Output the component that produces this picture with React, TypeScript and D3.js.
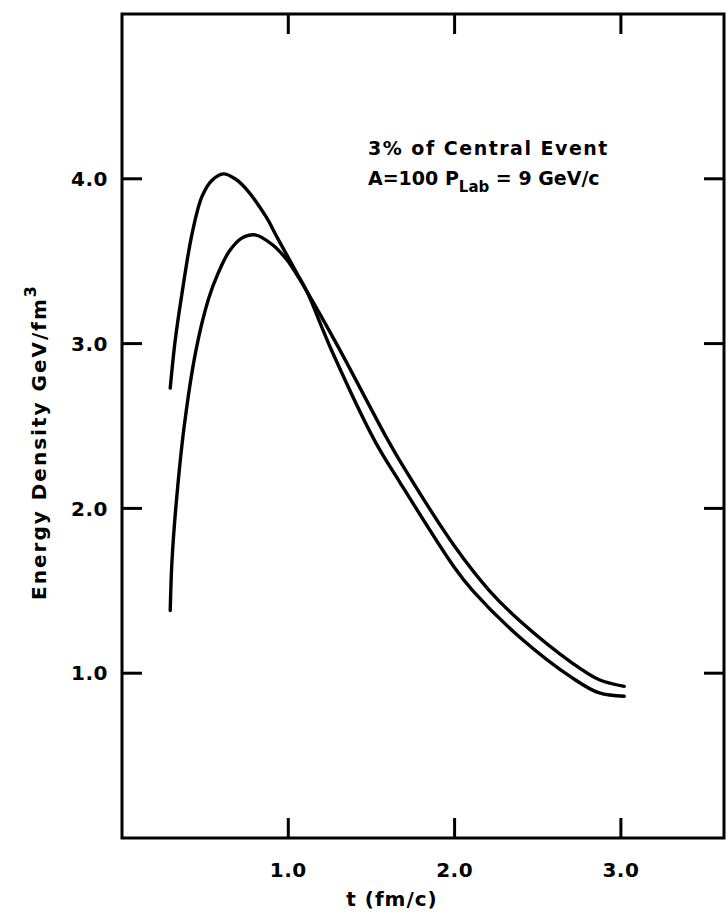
import React from 'react';
import * as d3 from 'd3';

// curve with the higher, earlier peak
const tA = [0.29, 0.32, 0.36, 0.42, 0.48, 0.54, 0.61, 0.68, 0.745, 0.866, 0.93, 0.99, 1.05, 1.11, 1.26, 1.52, 1.67, 2.0, 2.11, 2.39, 2.71, 2.87, 3.02];
const eA = [2.73, 3.02, 3.30, 3.66, 3.89, 3.99, 4.03, 4.00, 3.94, 3.77, 3.65, 3.54, 3.43, 3.32, 2.96, 2.41, 2.16, 1.64, 1.50, 1.22, 0.97, 0.88, 0.86];

// curve with the lower, later peak
const tB = [0.29, 0.30, 0.325, 0.373, 0.443, 0.52, 0.575, 0.645, 0.72, 0.80, 0.905, 0.99, 1.05, 1.11, 1.30, 1.59, 1.67, 2.0, 2.21, 2.39, 2.71, 2.87, 3.02];
const eB = [1.38, 1.67, 2.02, 2.49, 2.95, 3.27, 3.42, 3.56, 3.64, 3.66, 3.60, 3.51, 3.42, 3.32, 2.98, 2.43, 2.29, 1.77, 1.50, 1.32, 1.06, 0.96, 0.92];

const xTicks = [1, 2, 3];
const xTickLabels = ['1.0', '2.0', '3.0'];
const yTicks = [1, 2, 3, 4];
const yTickLabels = ['1.0', '2.0', '3.0', '4.0'];

const W = 728;
const H = 918;
const margin = { top: 14, right: 4, bottom: 80, left: 122 };

export default function App() {
  const x = d3.scaleLinear().domain([0, 3.62]).range([margin.left, W - margin.right]);
  const y = d3.scaleLinear().domain([0, 5]).range([H - margin.bottom, margin.top]);

  const line = d3.line<[number, number]>()
    .x(d => x(d[0]))
    .y(d => y(d[1]))
    .curve(d3.curveCatmullRom.alpha(0.5));

  const ptsA = tA.map((t, i) => [t, eA[i]] as [number, number]);
  const ptsB = tB.map((t, i) => [t, eB[i]] as [number, number]);

  const x0 = x(0), x1 = x(3.62), y0 = y(0), y1 = y(5);
  const tick = 20;
  const font = "'DejaVu Sans', sans-serif";

  return (
    <svg width={W} height={H} style={{ position: 'absolute', left: 0, top: 0, background: '#fff' }}
      fontFamily={font} fontWeight="bold">
      <rect x={x0} y={y1} width={x1 - x0} height={y0 - y1} fill="none" stroke="#000" strokeWidth={3} />

      {xTicks.map((t, i) => (
        <g key={'x' + t}>
          <line x1={x(t)} x2={x(t)} y1={y0} y2={y0 - tick} stroke="#000" strokeWidth={3} />
          <line x1={x(t)} x2={x(t)} y1={y1} y2={y1 + tick} stroke="#000" strokeWidth={3} />
          <text x={x(t)} y={y0 + 39} textAnchor="middle" fontSize={20} letterSpacing={0.5}>{xTickLabels[i]}</text>
        </g>
      ))}

      {yTicks.map((v, i) => (
        <g key={'y' + v}>
          <line x1={x0} x2={x0 + tick} y1={y(v)} y2={y(v)} stroke="#000" strokeWidth={3} />
          <line x1={x1} x2={x1 - tick} y1={y(v)} y2={y(v)} stroke="#000" strokeWidth={3} />
          <text x={x0 - 14} y={y(v)} dy="0.36em" textAnchor="end" fontSize={20} letterSpacing={0.5}>{yTickLabels[i]}</text>
        </g>
      ))}

      <path d={line(ptsA) || ''} fill="none" stroke="#000" strokeWidth={3.4} strokeLinecap="round" />
      <path d={line(ptsB) || ''} fill="none" stroke="#000" strokeWidth={3.4} strokeLinecap="round" />

      <text x={368} y={155} fontSize={19} letterSpacing={1.5}>3% of Central Event</text>
      <text x={368} y={185} fontSize={19}>
        A=100 P<tspan fontSize={15} dy={7}>Lab</tspan><tspan dy={-7}> = 9 GeV/c</tspan>
      </text>

      <text x={392} y={906} textAnchor="middle" fontSize={20} letterSpacing={1}>t (fm/c)</text>

      <text transform="translate(46,442) rotate(-90)" textAnchor="middle" fontSize={20} letterSpacing={2}>
        Energy Density GeV/fm<tspan fontSize={16} dy={-10}>3</tspan>
      </text>
    </svg>
  );
}
